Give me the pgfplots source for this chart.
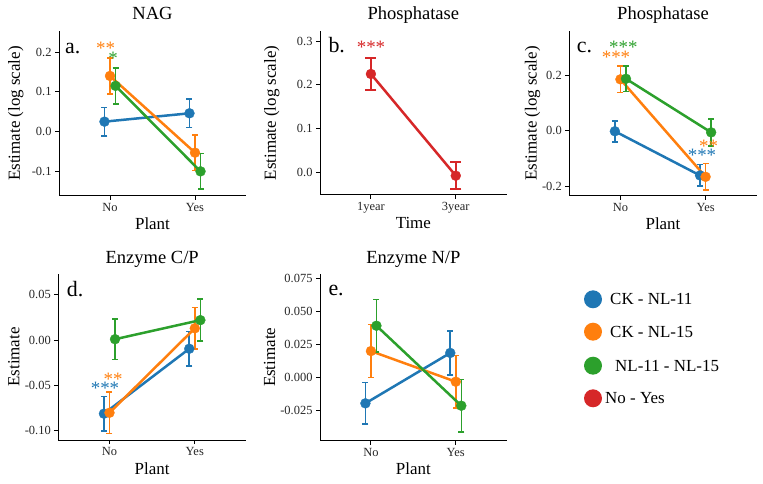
\documentclass[border=0pt]{standalone}
\usepackage{fontspec}
\setmainfont{Liberation Serif}
\usepackage{pgfplots}
\pgfplotsset{compat=1.18}
\definecolor{cb}{HTML}{1F77B4}
\definecolor{co}{HTML}{FF7F0E}
\definecolor{cg}{HTML}{2CA02C}
\definecolor{cr}{HTML}{D62728}
\pgfplotsset{
  every axis title shift=0pt,
  panel/.style={
    scale only axis, anchor=south west,
    xmin=-0.6, xmax=1.6,
    axis x line*=bottom, axis y line*=left,
    axis line style={black, line width=1bp, -},
    xtick={0,1}, scaled y ticks=false,
    tick align=outside, major tick length=4bp,
    tick style={black, line width=0.9bp},
    ticklabel style={font=\fontsize{12.5}{14}\selectfont, text=black!85},
    label style={font=\fontsize{17}{19}\selectfont},
    title style={font=\fontsize{18.6}{21}\selectfont, at={(axis description cs:0.5,1)}, anchor=base, yshift=11bp},
    xlabel style={at={(axis description cs:0.5,0)}, anchor=base, yshift=-34bp},
    clip=false,
  },
  ser/.style={#1, line width=2.5bp, mark=*, mark size=5bp,
    mark options={solid, fill=#1, line width=0.3bp},
    error bars/.cd, y dir=both, y explicit,
    error bar style={line width=1.6bp, #1},
    error mark options={#1, line width=1.6bp, mark size=3bp, rotate=90}},
}
\newcommand{\stars}[4]{\node[anchor=base, inner sep=0pt, text=#3, font=\fontsize{19}{20}\selectfont] at (#1bp,#2bp) {#4};}
\begin{document}
\begin{tikzpicture}
\path[use as bounding box] (0bp,0bp) rectangle (763bp,484bp);

% ---- a. NAG
\begin{axis}[panel, at={(59bp,288bp)}, width=187bp, height=165bp,
  ymin=-0.162, ymax=0.253, ytick={-0.1,0,0.1,0.2}, yticklabels={-0.1,0.0,0.1,0.2},
  xticklabels={No,Yes}, title={NAG}, xlabel={Plant}, ylabel={Estimate (log scale)},
  ylabel style={at={(axis description cs:-0.209,0.5)}, anchor=base}]
\addplot[ser=cb] table[x=x,y=y,y error=e]{
x y e
-0.065 0.025 0.036
0.935 0.046 0.036
};
\addplot[ser=co] table[x=x,y=y,y error=e]{
x y e
0 0.140 0.045
1 -0.053 0.045
};
\addplot[ser=cg] table[x=x,y=y,y error=e]{
x y e
0.065 0.115 0.045
1.065 -0.100 0.045
};
\end{axis}

% ---- b. Phosphatase (Time)
\begin{axis}[panel, at={(320bp,289bp)}, width=186.7bp, height=164bp,
  ymin=-0.051, ymax=0.323, ytick={0,0.1,0.2,0.3}, yticklabels={0.0,0.1,0.2,0.3},
  xticklabels={1year,3year}, title={Phosphatase}, xlabel={Time}, ylabel={Estimate (log scale)},
  ylabel style={at={(axis description cs:-0.236,0.5)}, anchor=base}]
\addplot[ser=cr, error mark options={cr, line width=1.6bp, mark size=5.5bp, rotate=90}] table[x=x,y=y,y error=e]{
x y e
0 0.225 0.036
1 -0.007 0.031
};
\end{axis}

% ---- c. Phosphatase (Plant)
\begin{axis}[panel, at={(569.3bp,288bp)}, width=187.4bp, height=165bp,
  ymin=-0.235, ymax=0.359, ytick={-0.2,0,0.2}, yticklabels={-0.2,0.0,0.2},
  xticklabels={No,Yes}, title={Phosphatase}, xlabel={Plant}, ylabel={Estimate (log scale)},
  ylabel style={at={(axis description cs:-0.174,0.5)}, anchor=base}]
\addplot[ser=cb] table[x=x,y=y,y error=e]{
x y e
-0.065 -0.002 0.038
0.935 -0.161 0.039
};
\addplot[ser=co] table[x=x,y=y,y error=e]{
x y e
0 0.185 0.047
1 -0.166 0.048
};
\addplot[ser=cg] table[x=x,y=y,y error=e]{
x y e
0.065 0.187 0.046
1.065 -0.006 0.048
};
\end{axis}

% ---- d. Enzyme C/P
\begin{axis}[panel, at={(58.3bp,44bp)}, width=187.7bp, height=166bp,
  ymin=-0.110, ymax=0.0728, ytick={-0.1,-0.05,0,0.05}, yticklabels={-0.10,-0.05,0.00,0.05},
  xticklabels={No,Yes}, title={Enzyme C/P}, xlabel={Plant}, ylabel={Estimate},
  ylabel style={at={(axis description cs:-0.208,0.5)}, anchor=base}]
\addplot[ser=cb] table[x=x,y=y,y error=e]{
x y e
-0.065 -0.081 0.019
0.935 -0.0095 0.019
};
\addplot[ser=co] table[x=x,y=y,y error=e]{
x y e
0 -0.080 0.023
1 0.013 0.023
};
\addplot[ser=cg] table[x=x,y=y,y error=e]{
x y e
0.065 0.001 0.0225
1.065 0.022 0.023
};
\end{axis}

% ---- e. Enzyme N/P
\begin{axis}[panel, at={(320bp,43.3bp)}, width=186.7bp, height=166.7bp,
  ymin=-0.0477, ymax=0.0786, ytick={-0.025,0,0.025,0.05,0.075}, yticklabels={-0.025,0.000,0.025,0.050,0.075},
  xticklabels={No,Yes}, title={Enzyme N/P}, xlabel={Plant}, ylabel={Estimate},
  ylabel style={at={(axis description cs:-0.241,0.5)}, anchor=base}]
\addplot[ser=cb] table[x=x,y=y,y error=e]{
x y e
-0.065 -0.0194 0.0158
0.935 0.0188 0.0166
};
\addplot[ser=co] table[x=x,y=y,y error=e]{
x y e
0 0.0202 0.020
1 -0.003 0.020
};
\addplot[ser=cg] table[x=x,y=y,y error=e]{
x y e
0.065 0.0394 0.020
1.065 -0.0212 0.020
};
\end{axis}

% panel letters
\begin{scope}[every node/.style={anchor=base west, inner sep=0pt, font=\fontsize{22}{24}\selectfont}]
\node at (65bp,430.7bp) {a.};
\node at (328.3bp,431bp) {b.};
\node at (576.7bp,431bp) {c.};
\node at (66.7bp,187.3bp) {d.};
\node at (328.3bp,188bp) {e.};
\end{scope}

% significance stars
\stars{105.5}{429.1}{co}{**}
\stars{113}{419.6}{cg}{*}
\stars{371}{430.1}{cr}{***}
\stars{623.3}{430.1}{cg}{***}
\stars{616}{420.1}{co}{***}
\stars{708.7}{331.1}{co}{**}
\stars{702}{322.8}{cb}{***}
\stars{113}{98.8}{co}{**}
\stars{105}{89.8}{cb}{***}

% legend
\begin{scope}[every node/.style={anchor=west, inner sep=0pt, font=\fontsize{17}{19}\selectfont}]
\fill[cb] (593bp,184.7bp) circle (9bp);
\node at (610bp,184.7bp) {CK - NL-11};
\fill[co] (593bp,152.3bp) circle (9bp);
\node at (610bp,152.3bp) {CK - NL-15};
\fill[cg] (593bp,118.3bp) circle (9bp);
\node at (615bp,118.3bp) {NL-11 - NL-15};
\fill[cr] (593bp,85.7bp) circle (9bp);
\node at (605bp,85.7bp) {No - Yes};
\end{scope}
\end{tikzpicture}
\end{document}
